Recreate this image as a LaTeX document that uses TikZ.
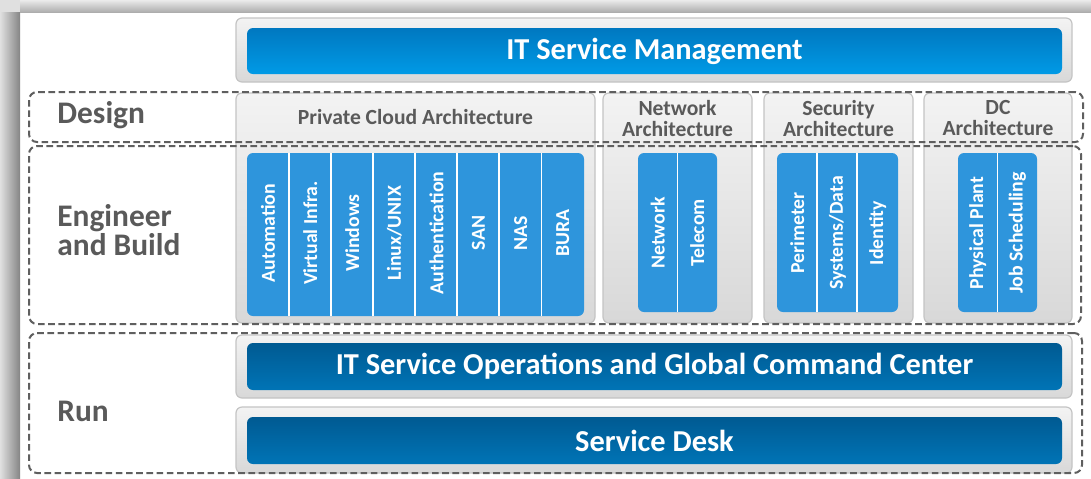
\documentclass[tikz,border=0pt]{standalone}
\usepackage{fontspec}
\setmainfont{Carlito}
\usepackage{xcolor}
\usepackage{tikz}
\usetikzlibrary{fit}

\definecolor{itsmtop}{HTML}{0078C0}
\definecolor{itsmbot}{HTML}{009AE6}
\definecolor{runtop}{HTML}{005A92}
\definecolor{runbot}{HTML}{0074B6}
\definecolor{colblue}{HTML}{2E95DC}
\definecolor{paneltop}{HTML}{F3F3F3}
\definecolor{panelbot}{HTML}{D8D8D8}
\definecolor{panelline}{HTML}{C4C4C4}
\definecolor{dashline}{HTML}{5F5F5F}
\definecolor{labeltext}{HTML}{5A5A5A}

\tikzset{
    panel/.style={draw=panelline, line width=0.6pt, rounded corners=3pt, top color=paneltop, bottom color=panelbot, inner sep=0pt},
    topbar/.style={rounded corners=3pt, top color=itsmtop, bottom color=itsmbot, inner sep=0pt},
    runbar/.style={topbar, top color=runtop, bottom color=runbot},
    bartext/.style={text=white, font=\fontsize{15.2}{18}\selectfont\bfseries, inner sep=0pt},
    colstrip/.style={rounded corners=3pt, fill=colblue, inner sep=0pt},
    coltext/.style={rotate=90, text=white, font=\fontsize{9.9}{11}\selectfont\bfseries, inner sep=0pt},
    divider/.style={white, line width=0.8pt},
    hdr/.style={text=labeltext, font=\fontsize{10.8}{10.5}\selectfont\bfseries, align=center, inner sep=0pt},
    rowlabel/.style={anchor=west, text=labeltext, font=\fontsize{15.7}{13}\selectfont\bfseries, align=left, inner sep=0pt},
    zone/.style={draw=dashline, line width=1pt, dash pattern=on 3.3pt off 1.8pt, rounded corners=4pt, inner sep=0pt}
}

\begin{document}
\begin{tikzpicture}[x=0.5pt, y=-0.5pt]
    \useasboundingbox (0,0) rectangle (1091,478);

    % sheet and its shadow
    \fill[white] (0,0) rectangle (1091,478);
    \fill[black!12] (0,0) rectangle (20,12);
    \shade[left color=black!12, right color=black!48] (0,12) rectangle (20,478);
    \shade[top color=black!8, bottom color=black!32] (20,0) rectangle (1091,12);

    % IT service management
    \node[panel, fit={(236,18) (1072,82)}] (itsmpanel) {};
    \node[topbar, fit={(247,28) (1062,74)}] (itsm) {};
    \node[bartext] (itsmtxt) at (itsm.center) {IT Service Management};

    % architecture panels
    \node[panel, fit={(236,93) (595,323)}] (pcpanel) {};
    \node[panel, fit={(603,93) (752,323)}] (netpanel) {};
    \node[panel, fit={(764,93) (913,323)}] (secpanel) {};
    \node[panel, fit={(924,93) (1072,323)}] (dcpanel) {};

    \node[hdr] (pchdr) at (415.5,117) {Private Cloud Architecture};
    \node[hdr] (nethdr) at (677.5,118) {Network\\Architecture};
    \node[hdr] (sechdr) at (838.5,118) {Security\\Architecture};
    \node[hdr] (dchdr) at (998,118) {DC\\Architecture};

    % private cloud columns
    \node[colstrip, fit={(247,153) (584,316)}] (pcstrip) {};
    \foreach \i in {1,...,7}
        \draw[divider] (pcstrip.north west) ++(42.1*\i,0) -- ++(0,163);
    \foreach \lbl [count=\i] in {Automation, Virtual Infra., Windows, Linux/UNIX, Authentication, SAN, NAS, BURA}
        \node[coltext] (pc\i) at ({247+42.1*(\i-0.5)},233) {\lbl};

    % network columns
    \node[colstrip, fit={(638,153) (717,312)}] (netstrip) {};
    \draw[divider] (netstrip.north) -- (netstrip.south);
    \node[coltext] (net1) at (657.75,233) {Network};
    \node[coltext] (net2) at (697.25,233) {Telecom};

    % security columns
    \node[colstrip, fit={(777,153) (898,312)}] (secstrip) {};
    \draw[divider] (secstrip.north west) ++(40.3,0) -- ++(0,159);
    \draw[divider] (secstrip.north west) ++(80.6,0) -- ++(0,159);
    \node[coltext] (sec1) at (797.2,233) {Perimeter};
    \node[coltext] (sec2) at (837.5,233) {Systems/Data};
    \node[coltext] (sec3) at (877.8,233) {Identity};

    % data center columns
    \node[colstrip, fit={(958,153) (1037,312)}] (dcstrip) {};
    \draw[divider] (dcstrip.north) -- (dcstrip.south);
    \node[coltext] (dc1) at (977.75,233) {Physical Plant};
    \node[coltext] (dc2) at (1017.25,233) {Job Scheduling};

    % run
    \node[panel, fit={(236,335) (1072,398)}] (opspanel) {};
    \node[runbar, fit={(247,343) (1062,390)}] (ops) {};
    \node[bartext] (opstxt) at (ops.center) {IT Service Operations and Global Command Center};
    \node[panel, fit={(236,407) (1072,473)}] (deskpanel) {};
    \node[runbar, fit={(247,417) (1062,464)}] (desk) {};
    \node[bartext] (desktxt) at (desk.center) {Service Desk};

    % dashed zones
    \node[zone, fit={(29,92) (1083,142)}] (design) {};
    \node[zone, fit={(29,146) (1081,324)}] (engineer) {};
    \node[zone, fit={(29,333) (1082,473)}] (run) {};

    \node[rowlabel] (designlbl) at (57,115) {Design};
    \node[rowlabel] (engineerlbl) at (57,230) {Engineer\\and Build};
    \node[rowlabel] (runlbl) at (57,411) {Run};
\end{tikzpicture}
\end{document}
